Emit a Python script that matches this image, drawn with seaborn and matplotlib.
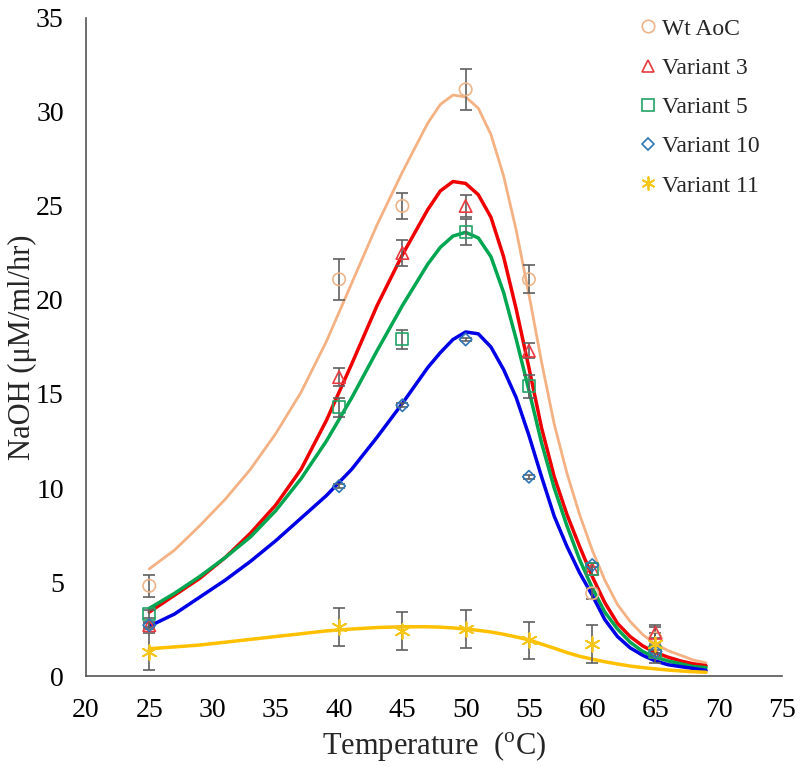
import seaborn as sns
import pandas as pd
import matplotlib.pyplot as plt
from matplotlib.lines import Line2D

sns.set_theme(style='white')
plt.rcParams['font.family'] = ['Liberation Serif', 'DejaVu Serif']
plt.rcParams['mathtext.fontset'] = 'custom'
plt.rcParams['mathtext.rm'] = 'Liberation Serif'

series = ['Wt AoC', 'Variant 3', 'Variant 5', 'Variant 10', 'Variant 11']

# measured points
temps = [25, 40, 45, 50, 55, 60, 65]
wt_vals = [4.8, 21.1, 25.0, 31.2, 21.1, 4.4, 2.0]
wt_err = [0.6, 1.1, 0.7, 1.1, 0.75, 0.3, 0.3]
v3_vals = [2.7, 15.9, 22.5, 25.0, 17.3, 5.7, 2.3]
v3_err = [0.2, 0.5, 0.7, 0.6, 0.4, 0.3, 0.3]
v5_vals = [3.3, 14.3, 17.9, 23.6, 15.4, 5.7, 1.3]
v5_err = [0.2, 0.5, 0.5, 0.7, 0.6, 0.3, 0.3]
v10_vals = [2.7, 10.1, 14.4, 17.9, 10.6, 5.9, 1.3]
v10_err = [0.1, 0.1, 0.1, 0.1, 0.1, 0.1, 0.1]
v11_vals = [1.3, 2.6, 2.4, 2.5, 1.9, 1.7, 1.7]
v11_err = [1.0, 1.0, 1.0, 1.0, 1.0, 1.0, 1.0]

# fitted curves
curve_x = [25, 27, 29, 31, 33, 35, 37, 39, 41, 43, 45, 47, 48, 49, 50, 51, 52,
           53, 54, 55, 56, 57, 58, 59, 60, 61, 62, 63, 64, 65, 66, 67, 68, 69]
wt_fit = [5.7, 6.7, 8.0, 9.4, 11.0, 12.9, 15.1, 17.8, 20.9, 24.0, 26.8, 29.4, 30.4,
          30.9, 30.8, 30.2, 28.8, 26.6, 23.7, 20.3, 16.7, 13.4, 10.8, 8.6, 6.7, 5.1,
          3.8, 2.9, 2.2, 1.7, 1.35, 1.1, 0.85, 0.7]
v3_fit = [3.4, 4.3, 5.2, 6.3, 7.6, 9.1, 11.0, 13.6, 16.6, 19.7, 22.4, 24.8, 25.8,
          26.3, 26.2, 25.6, 24.4, 22.3, 19.5, 16.4, 13.2, 10.6, 8.6, 6.9, 5.3, 3.9,
          2.8, 2.1, 1.6, 1.25, 1.0, 0.8, 0.65, 0.55]
v5_fit = [3.6, 4.4, 5.3, 6.3, 7.4, 8.8, 10.5, 12.5, 14.8, 17.3, 19.7, 21.9, 22.8,
          23.4, 23.6, 23.3, 22.3, 20.4, 17.9, 15.2, 12.4, 10.0, 8.0, 6.2, 4.7, 3.4,
          2.5, 1.8, 1.3, 1.0, 0.8, 0.65, 0.5, 0.45]
v10_fit = [2.65, 3.3, 4.2, 5.1, 6.1, 7.2, 8.4, 9.6, 11.0, 12.7, 14.5, 16.4, 17.2,
           17.9, 18.3, 18.2, 17.5, 16.3, 14.8, 12.8, 10.6, 8.5, 6.9, 5.5, 4.3, 3.0,
           2.1, 1.5, 1.1, 0.8, 0.6, 0.5, 0.4, 0.3]
v11_fit = [1.45, 1.55, 1.65, 1.8, 1.95, 2.1, 2.25, 2.4, 2.5, 2.58, 2.62, 2.62, 2.6,
           2.56, 2.5, 2.43, 2.34, 2.22, 2.08, 1.92, 1.7, 1.48, 1.25, 1.05, 0.9, 0.76,
           0.64, 0.53, 0.45, 0.38, 0.32, 0.27, 0.23, 0.2]

vals = [wt_vals, v3_vals, v5_vals, v10_vals, v11_vals]
errs = [wt_err, v3_err, v5_err, v10_err, v11_err]
fits = [wt_fit, v3_fit, v5_fit, v10_fit, v11_fit]

line_colors = ['#F4B183', '#EE0000', '#00A650', '#0000E6', '#FFC000']
marker_colors = ['#EDB48A', '#E8393F', '#21A366', '#2E75B6', '#F5C518']
markers = ['o', '^', 's', 'D', (6, 2, 0)]
sizes = [80, 80, 75, 40, 110]
widths = [2.0, 2.5, 2.5, 2.5, 2.5]

fig = plt.figure(figsize=(8, 7.67), dpi=100)
ax = fig.add_axes([0.1075, 0.1186, 0.87, 0.858])

for name, fc, lc, lw in zip(series, fits, line_colors, widths):
    df = pd.DataFrame({'x': curve_x, 'y': fc})
    sns.lineplot(data=df, x='x', y='y', color=lc, linewidth=lw, ax=ax, zorder=2)

for name, v, e, mc, mk, sz in zip(series, vals, errs, marker_colors, markers, sizes):
    ax.errorbar(temps, v, yerr=e, fmt='none', ecolor='#606060', elinewidth=1.2,
                capsize=4, capthick=1.2, zorder=3)
    df = pd.DataFrame({'x': temps, 'y': v})
    if mk == (6, 2, 0):
        sns.scatterplot(data=df, x='x', y='y', marker=mk, s=sz, color=mc,
                        linewidth=1.3, ax=ax, zorder=4)
    else:
        sns.scatterplot(data=df, x='x', y='y', marker=mk, s=sz, facecolor='none',
                        edgecolor=mc, linewidth=1.2, ax=ax, zorder=4)

ax.set_xlim(20, 75)
ax.set_ylim(0, 35)
ax.set_xticks(range(20, 76, 5))
ax.set_yticks(range(0, 36, 5))
ax.tick_params(length=0, labelsize=20, colors='black')
ax.tick_params(axis='x', pad=16)
ax.tick_params(axis='y', pad=16)
for s in ['top', 'right']:
    ax.spines[s].set_visible(False)
for s in ['left', 'bottom']:
    ax.spines[s].set_color('#555555')
    ax.spines[s].set_linewidth(1.2)

ax.set_xlabel(r'Temperature  ($^{\rm o}$C)', fontsize=22, labelpad=4)
ax.set_ylabel('NaOH (μM/ml/hr)', fontsize=22)
ax.yaxis.set_label_coords(-0.071, 0.5)

handles = []
for name, mc, mk in zip(series, marker_colors, markers):
    if mk == (6, 2, 0):
        h = Line2D([], [], linestyle='none', marker=mk, markersize=10,
                   markeredgecolor=mc, markeredgewidth=1.3)
    else:
        h = Line2D([], [], linestyle='none', marker=mk, markersize=9 if mk != 'D' else 6.5,
                   markerfacecolor='none', markeredgecolor=mc, markeredgewidth=1.2)
    handles.append(h)
ax.legend(handles, series, loc='upper right', bbox_to_anchor=(0.998, 1.032),
          frameon=False, fontsize=17, handlelength=0.6, handletextpad=0.3,
          labelspacing=0.75)

fig.savefig('out.png', dpi=100)
